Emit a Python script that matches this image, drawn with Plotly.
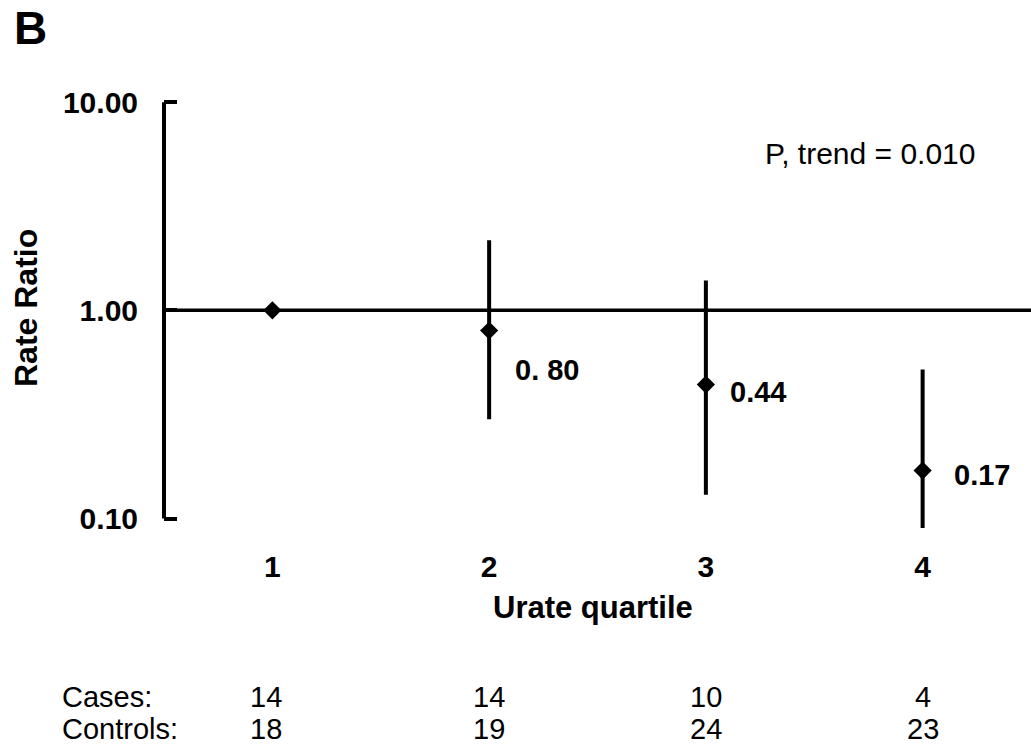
import math
import plotly.graph_objects as go

# Rate ratios of the outcome by urate quartile, with 95% CI
quartiles = [1, 2, 3, 4]
quartile_labels = ["1", "2", "3", "4"]
rate_ratio = [1.00, 0.80, 0.44, 0.17]
ci_upper = [1.00, 2.17, 1.39, 0.52]
ci_lower = [1.00, 0.30, 0.13, 0.09]
value_labels = ["", "0. 80", "0.44", "0.17"]
cases = [14, 14, 10, 4]
controls = [18, 19, 24, 23]
y_tick_values = [0.1, 1, 10]
y_tick_labels = ["0.10", "1.00", "10.00"]

FONT = "Liberation Sans, Arial, sans-serif"
W, H = 1031, 747
ML, MR, MT, MB = 164, 0, 98, 216
plot_w = W - ML - MR
plot_h = H - MT - MB


def px_to_paper_x(px):
    return (px - ML) / plot_w


def px_to_paper_y(py):
    return (H - MB - py) / plot_h


fig = go.Figure()

fig.add_trace(go.Scatter(
    x=quartiles,
    y=rate_ratio,
    mode="markers",
    marker=dict(symbol="diamond", size=14, color="black"),
    error_y=dict(
        type="data",
        symmetric=False,
        array=[u - r for u, r in zip(ci_upper, rate_ratio)],
        arrayminus=[r - l for r, l in zip(rate_ratio, ci_lower)],
        color="black",
        thickness=4,
        width=0,
    ),
    showlegend=False,
    hoverinfo="skip",
))

shapes = [
    # reference line at a ratio of 1
    dict(type="line", xref="paper", yref="y", x0=0, x1=1, y0=1, y1=1,
         line=dict(color="black", width=3.5), layer="below"),
    # vertical axis spanning 0.10 to 10.00
    dict(type="line", xref="paper", yref="y", x0=0, x1=0,
         y0=y_tick_values[0], y1=y_tick_values[-1],
         line=dict(color="black", width=4)),
]

annotations = []

# point estimate labels beside each marker
label_shift = {2: (24, -39), 3: (22, -7), 4: (29, -4)}
for q, r, txt in zip(quartiles, rate_ratio, value_labels):
    if not txt:
        continue
    dx, dy = label_shift[q]
    annotations.append(dict(
        x=q, y=math.log10(r), xref="x", yref="y",
        text=txt, showarrow=False, xanchor="left", yanchor="middle",
        xshift=dx, yshift=dy,
        font=dict(family=FONT, size=29, color="black", weight="bold"),
    ))

# case / control counts under each quartile
row_y = {"Cases:": 697, "Controls:": 729}
for name, counts in (("Cases:", cases), ("Controls:", controls)):
    annotations.append(dict(
        x=px_to_paper_x(60), y=px_to_paper_y(row_y[name]), xref="paper", yref="paper",
        text=name, showarrow=False, xanchor="left", yanchor="middle",
        font=dict(family=FONT, size=29, color="black"),
    ))
    for q, n in zip(quartiles, counts):
        annotations.append(dict(
            x=q, y=px_to_paper_y(row_y[name]), xref="x", yref="paper",
            text=str(n), showarrow=False, xanchor="center", yanchor="middle",
            xshift=-6 if q == 1 else 0,
            font=dict(family=FONT, size=29, color="black"),
        ))

annotations += [
    dict(x=px_to_paper_x(763), y=px_to_paper_y(153), xref="paper", yref="paper",
         text="P, trend = 0.010", showarrow=False, xanchor="left", yanchor="middle",
         font=dict(family=FONT, size=30, color="black")),
    dict(x=px_to_paper_x(12), y=px_to_paper_y(28), xref="paper", yref="paper",
         text="B", showarrow=False, xanchor="left", yanchor="middle",
         font=dict(family=FONT, size=46, color="black", weight="bold")),
    dict(x=px_to_paper_x(593), y=px_to_paper_y(607), xref="paper", yref="paper",
         text="Urate quartile", showarrow=False, xanchor="center", yanchor="middle",
         font=dict(family=FONT, size=31, color="black", weight="bold")),
    dict(x=px_to_paper_x(26), y=px_to_paper_y(308), xref="paper", yref="paper",
         text="Rate Ratio", showarrow=False, textangle=-90,
         xanchor="center", yanchor="middle",
         font=dict(family=FONT, size=32, color="black", weight="bold")),
]

fig.update_layout(
    width=W, height=H,
    margin=dict(l=ML, r=MR, t=MT, b=MB, autoexpand=False),
    paper_bgcolor="white", plot_bgcolor="white",
    font=dict(family=FONT, color="black"),
    xaxis=dict(
        range=[0.5, 4.5],
        tickmode="array", tickvals=quartiles, ticktext=quartile_labels,
        showline=False, showgrid=False, zeroline=False, ticks="",
        ticklabelstandoff=15,
        tickfont=dict(family=FONT, size=30, color="black", weight="bold"),
    ),
    yaxis=dict(
        type="log",
        range=[-1.06, 1.02],
        tickmode="array", tickvals=y_tick_values, ticktext=y_tick_labels,
        showline=False, showgrid=False, zeroline=False,
        ticks="inside", ticklen=13, tickwidth=4, tickcolor="black",
        ticklabelstandoff=25,
        tickfont=dict(family=FONT, size=30, color="black", weight="bold"),
    ),
    shapes=shapes,
    annotations=annotations,
)

fig.write_html("out.html")
